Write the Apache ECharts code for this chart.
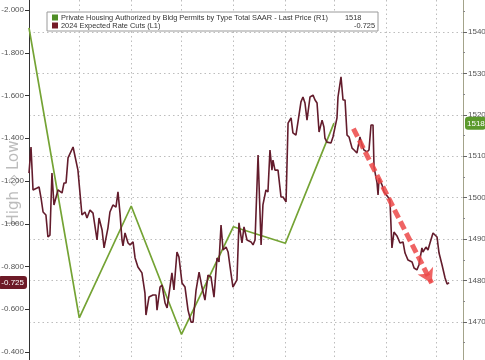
<!DOCTYPE html>
<html><head><meta charset="utf-8">
<script src="https://cdn.jsdelivr.net/npm/echarts@6/dist/echarts.min.js"></script>
<style>html,body{margin:0;padding:0;background:#fff}#c{width:485px;height:360px}</style>
</head><body><div id="c"></div>
<script>
// x positions are days since 2023-08-31
const monthEndDays = [30, 61, 91, 122, 153, 182, 213, 243];
const permitName = 'Private Housing Authorized by Bldg Permits by Type Total SAAR - Last Price (R1)';
const rateName = '2024 Expected Rate Cuts (L1)';
const permitDays = [0, 30, 61, 91, 122, 153, 182];
const permitValues = [1541, 1471, 1498, 1467, 1493, 1489, 1518];
const rateDays = [0,1.2,2.4,4.8,6.0,7.2,8.4,10.1,11.3,12.5,13.7,14.9,17.3,19.7,20.9,22.1,23.3,26.3,29.2,31.6,
33.4,34.6,36.4,38.2,40.6,41.8,43.6,44.8,47.1,48.3,50.1,51.9,53.1,54.3,55.5,56.1,57.3,59.1,60.3,62.1,
63.3,65.0,67.4,69.2,69.8,71.6,74.0,75.8,76.4,78.2,79.4,81.2,82.4,85.3,86.5,88.3,89.5,91.3,93.1,94.9,
96.7,97.9,99.7,101.5,103.2,105.0,106.8,108.6,110.4,112.2,113.4,114.6,115.8,117.6,118.8,120.0,121.7,124.1,125.3,127.1,
128.3,130.1,132.5,133.7,134.9,136.7,138.5,139.6,141.4,142.6,143.8,145.0,145.6,146.8,148.6,150.4,151.6,153.4,154.6,156.4,
157.5,159.3,160.5,162.3,163.5,164.7,165.9,167.7,169.5,170.7,171.9,173.1,174.9,176.0,176.6,177.8,180.2,181.4,183.8,184.4,
186.2,187.4,188.6,189.8,191.0,192.8,194.0,195.1,195.7,197.5,198.7,199.9,201.7,202.9,204.1,205.3,205.9,207.7,208.3,208.9,
210.7,211.9,214.2,215.4,216.6,217.8,219.6,221.4,223.2,224.4,226.2,228.6,229.8,231.5,232.7,234.5,235.1,236.9,238.1,239.3,
241.1,243.5,244.7,246.5,248.3,249.5,250.7];
const rateValues = [-1.237,-1.359,-1.158,-1.167,-1.172,-1.120,-1.055,-1.041,-0.938,-0.947,-1.237,-1.088,-1.158,-1.144,-1.191,-1.191,-1.308,-1.359,-1.251,-1.041,
-1.055,-1.027,-1.064,-1.050,-0.924,-1.027,-0.971,-0.887,-0.980,-1.055,-1.088,-1.078,-1.149,-1.050,-0.924,-0.896,-0.957,-0.910,-0.901,-0.915,
-0.840,-0.798,-0.770,-0.676,-0.573,-0.657,-0.667,-0.667,-0.596,-0.704,-0.713,-0.629,-0.606,-0.770,-0.690,-0.868,-0.844,-0.723,-0.704,-0.596,
-0.540,-0.540,-0.690,-0.774,-0.704,-0.643,-0.760,-0.751,-0.657,-0.840,-0.821,-0.994,-0.877,-0.891,-0.868,-0.798,-0.704,-0.737,-1.004,-0.910,
-0.985,-0.924,-0.915,-0.901,-0.924,-1.322,-0.901,-1.088,-1.158,-1.149,-1.345,-1.251,-1.298,-1.251,-1.251,-1.125,-1.125,-1.102,-1.471,-1.495,
-1.425,-1.415,-1.476,-1.570,-1.593,-1.565,-1.485,-1.593,-1.602,-1.579,-1.565,-1.429,-1.485,-1.453,-1.401,-1.382,-1.378,-1.406,-1.495,-1.593,
-1.687,-1.579,-1.579,-1.415,-1.406,-1.354,-1.345,-1.354,-1.331,-1.406,-1.368,-1.345,-1.336,-1.345,-1.462,-1.462,-1.265,-1.191,-1.135,-1.214,
-1.181,-1.149,-1.125,-1.111,-0.887,-0.961,-0.943,-0.910,-0.915,-0.863,-0.830,-0.821,-0.793,-0.784,-0.807,-0.887,-0.868,-0.891,-0.877,-0.910,
-0.957,-0.938,-0.863,-0.807,-0.746,-0.718,-0.725];
const leftTicks = [-2.0, -1.8, -1.6, -1.4, -1.2, -1.0, -0.8, -0.6, -0.4];
const rightTicks = [1470, 1480, 1490, 1500, 1510, 1520, 1530, 1540];
const rightMinorTicks = [1465, 1475, 1485, 1495, 1505, 1515, 1525, 1535, 1545];
const lastRate = -0.725;
const lastPermit = 1518;
const arrowDays = [193.6, 240.3];
const arrowValues = [-1.445, -0.722];

const chart = echarts.init(document.getElementById('c'), null, {renderer: 'canvas'});
const FONT = 'Liberation Sans';
const leftMin = -2.0468, leftMax = -0.3626;
const rightMin = 1460.83, rightMax = 1547.72;

chart.setOption({
  animation: false,
  backgroundColor: '#ffffff',
  grid: {left: 29, right: 22, top: 0, bottom: 0, containLabel: false, outerBoundsMode: 'none'},
  legend: {
    orient: 'vertical', left: 47, top: 12,
    backgroundColor: '#ffffff', borderColor: '#9a9a9a', borderWidth: 1, borderRadius: 0,
    padding: [2, 3, 2, 5], itemGap: 1, itemWidth: 6, itemHeight: 6, icon: 'rect',
    data: [permitName, rateName],
    formatter: function (name) {
      if (name === permitName) return '{n|' + name + '}{v|' + lastPermit + '}';
      return '{n|' + name + '}{r|' + lastRate.toFixed(3) + '}';
    },
    textStyle: {
      fontFamily: FONT, fontSize: 7.4, color: '#333', padding: [0, 0, 0, -2],
      rich: {
        n: {fontFamily: FONT, fontSize: 7.4, color: '#333', width: 284, lineHeight: 10},
        v: {fontFamily: FONT, fontSize: 7.4, color: '#333', width: 30, lineHeight: 10},
        r: {fontFamily: FONT, fontSize: 7.4, color: '#333', width: 30, align: 'right', lineHeight: 10}
      }
    }
  },
  xAxis: {
    type: 'value', min: 0, max: 259,
    axisLine: {show: false}, axisLabel: {show: false},
    axisTick: {show: false, customValues: monthEndDays},
    splitLine: {show: true, lineStyle: {color: '#bdbdbd', type: [1.5, 3], width: 1}}
  },
  yAxis: [
    {
      type: 'value', position: 'left', inverse: true, min: leftMin, max: leftMax,
      axisLine: {show: true, lineStyle: {color: '#333', width: 1}},
      axisTick: {show: true, inside: false, length: 4, customValues: leftTicks, lineStyle: {color: '#333'}},
      axisLabel: {
        show: true, margin: 2, customValues: leftTicks.concat([lastRate]),
        fontFamily: FONT, fontSize: 8, color: '#555',
        formatter: function (v) {
          if (Math.abs(v - lastRate) < 1e-9) return '{b|' + lastRate.toFixed(3) + '}';
          return '{n|' + v.toFixed(3) + '}';
        },
        rich: {
          n: {fontFamily: FONT, fontSize: 8, color: '#555', padding: [0, 3, 0, 0]},
          b: {fontFamily: FONT, fontSize: 8, color: '#fff', backgroundColor: '#6d1a27', borderRadius: 3, padding: [3, 3, 2, 3]}
        }
      },
      splitLine: {show: false}
    },
    {
      type: 'value', position: 'right', min: rightMin, max: rightMax,
      axisLine: {show: true, lineStyle: {color: '#a3a38a', width: 1}},
      axisTick: {show: true, inside: false, length: 4, customValues: rightTicks, lineStyle: {color: '#666'}},
      axisLabel: {
        show: true, margin: 2, customValues: rightTicks.concat([lastPermit]),
        fontFamily: FONT, fontSize: 8, color: '#555',
        formatter: function (v) {
          if (v === lastPermit) return '{g|' + lastPermit + '}';
          return '{n|' + v + '}';
        },
        rich: {
          n: {fontFamily: FONT, fontSize: 8, color: '#555', padding: [0, 0, 0, 3]},
          g: {fontFamily: FONT, fontSize: 8, color: '#fff', backgroundColor: '#5b9a2c', borderRadius: 3, padding: [3, 1, 2, 2]}
        }
      },
      splitLine: {show: true, lineStyle: {color: '#bdbdbd', type: [1.5, 3], width: 1}}
    },
    {
      type: 'value', position: 'right', min: rightMin, max: rightMax,
      axisLine: {show: false}, axisLabel: {show: false}, splitLine: {show: false},
      axisTick: {show: true, inside: false, length: 2, customValues: rightMinorTicks, lineStyle: {color: '#888'}}
    }
  ],
  graphic: [{
    type: 'text', x: 14, y: 183, rotation: Math.PI / 2, silent: true,
    style: {text: 'High \u25C7 Low', fill: '#bcbcbc', font: '15px "DejaVu Sans"', align: 'center', verticalAlign: 'middle'}
  }],
  series: [
    {
      name: permitName, type: 'line', yAxisIndex: 1, symbol: 'none', smooth: false,
      itemStyle: {color: '#4e8d25'},
      lineStyle: {color: '#74a334', width: 1.7},
      data: permitDays.map((d, i) => [d, permitValues[i]])
    },
    {
      name: rateName, type: 'line', yAxisIndex: 0, symbol: 'none', smooth: false,
      itemStyle: {color: '#741b27'},
      lineStyle: {color: '#631c2c', width: 1.6},
      data: rateDays.map((d, i) => [d, rateValues[i]]),
      markLine: {
        silent: true, animation: false,
        symbol: ['none', 'arrow'], symbolSize: [13, 14],
        label: {show: false},
        lineStyle: {color: '#ec4848', width: 5, type: [9, 4], opacity: 0.85},
        data: [[{coord: [arrowDays[0], arrowValues[0]]}, {coord: [arrowDays[1], arrowValues[1]]}]]
      }
    }
  ]
});
</script>
</body></html>
